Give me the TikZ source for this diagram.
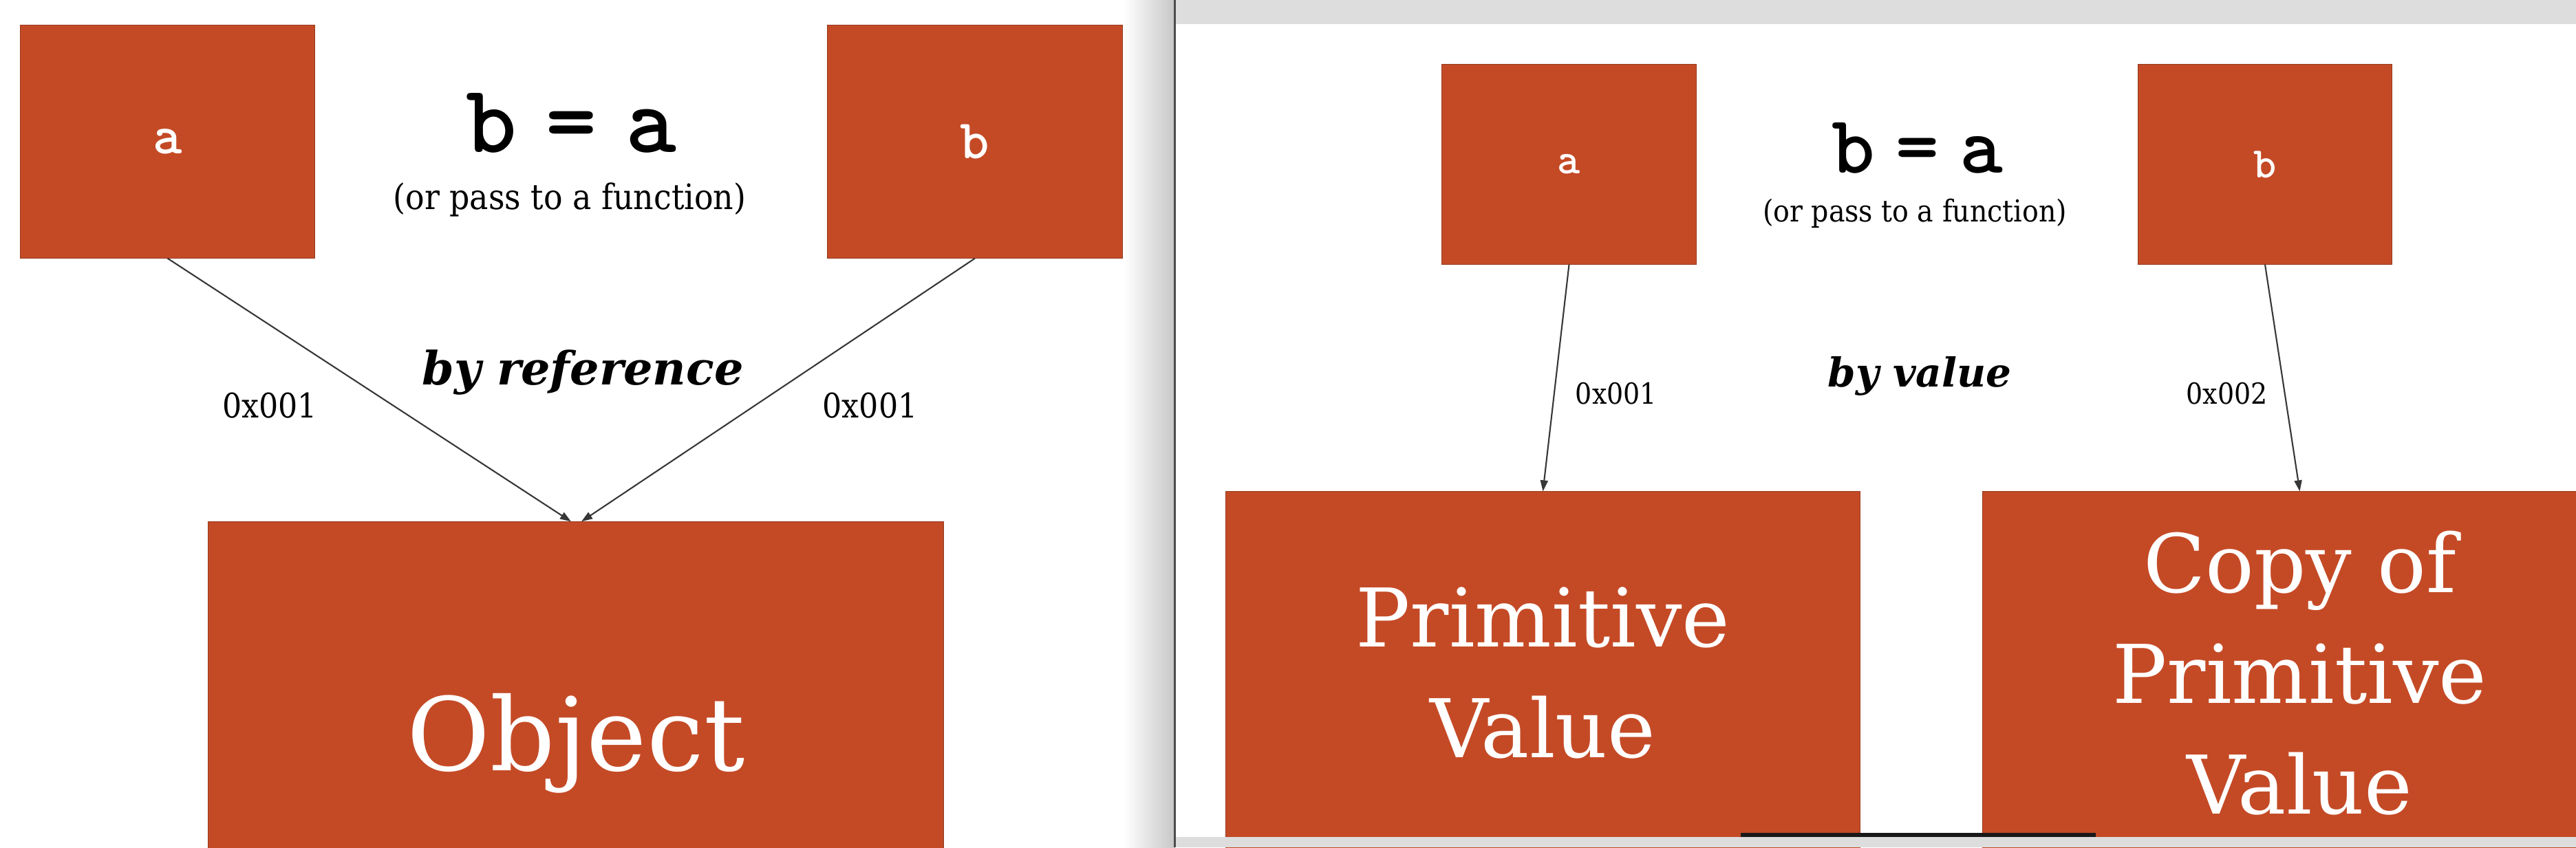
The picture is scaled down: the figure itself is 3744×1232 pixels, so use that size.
\documentclass[tikz,border=0pt]{standalone}
\usepackage{fontspec}
\setmainfont{DejaVu Serif}
\newfontfamily\condfont{DejaVu Serif Condensed}
\newfontfamily\typefont{lmmonolt10-bold}[Extension=.otf]
\usetikzlibrary{arrows.meta,positioning}
\definecolor{slidered}{RGB}{196,74,38}
\definecolor{slideedge}{RGB}{150,58,30}
\definecolor{bargray}{RGB}{221,221,221}
\definecolor{wirecol}{RGB}{55,55,55}

\begin{document}
\begin{tikzpicture}[x=0.01cm, y=-0.01cm, semithick, >={Triangle[length=0.16cm,width=0.11cm]}]
  \tikzstyle{box}=[rectangle, fill=slidered, draw=slideedge, line width=0.01cm, text=white, inner sep=0pt]
  \tikzstyle{wire}=[draw=wirecol, ->]
  \tikzstyle{addr}=[inner sep=0pt, font=\condfont\fontsize{14}{16}\selectfont]
  \useasboundingbox (0,0) rectangle (3744,1232);
  \clip (0,0) rectangle (3744,1232);
  \fill[white] (0,0) rectangle (3744,1232);
  \shade[left color=white, right color=black!22] (1633,0) rectangle (1707,1232);
  \fill[black!70] (1706,0) rectangle (1709,1232);

  % by reference
  \node[box, minimum width=4.27cm, minimum height=3.38cm, font=\typefont\fontsize{23}{26}\selectfont] (la) at (243.5,206) {a};
  \node[box, minimum width=4.28cm, minimum height=3.38cm, font=\typefont\fontsize{23}{26}\selectfont] (lb) at (1417,206) {b};
  \node[box, minimum width=10.68cm, minimum height=6.44cm, font=\fontsize{42}{50}\selectfont] (obj) at (837,1081) {Object};
  \node[anchor=base, font=\typefont\fontsize{40}{42}\selectfont] (leq) at (830,221) {b\kern12pt=\kern12pt a};
  \node[anchor=base, font=\condfont\fontsize{14.5}{16}\selectfont] (lsub) at (828,304) {(or pass to a function)};
  \node[anchor=base, font=\bfseries\itshape\fontsize{19}{22}\selectfont] (lhow) at (847,559) {by reference};
  \path (la.south) edge[wire] node[addr, pos=0.56, left=1.1cm] (laddr) {0x001} ([xshift=-0.07cm]obj.north)
        (lb.south) edge[wire] node[addr, pos=0.56, right=0.98cm] (baddr) {0x001} ([xshift=0.08cm]obj.north);

  % by value
  \node[box, minimum width=3.69cm, minimum height=2.9cm, font=\typefont\fontsize{18}{20}\selectfont] (ra) at (2280.5,239) {a};
  \node[box, minimum width=3.68cm, minimum height=2.9cm, font=\typefont\fontsize{18}{20}\selectfont] (rb) at (3292,239) {b};
  \node[box, minimum width=9.21cm, minimum height=5.27cm, align=center, font=\fontsize{33.5}{45.8}\selectfont] (pv) at (2242.5,978.5) {Primitive\\Value};
  \node[box, minimum width=9.21cm, minimum height=5.27cm, align=center, font=\fontsize{33.5}{45.8}\selectfont] (cpv) at (3342.5,978.5) {Copy of\\Primitive\\Value};
  \node[anchor=base, font=\typefont\fontsize{34}{36}\selectfont] (req) at (2787,251) {b\kern8.5pt=\kern8.5pt a};
  \node[anchor=base, font=\condfont\fontsize{12.5}{14}\selectfont] (rsub) at (2783,322) {(or pass to a function)};
  \node[anchor=base, font=\bfseries\itshape\fontsize{16.5}{19}\selectfont] (rhow) at (2790,562) {by value};
  \path (ra.south) edge[wire] node[addr, font=\condfont\fontsize{12}{14}\selectfont, pos=0.57, right=0.3cm] (raddr) {0x001} (pv.north)
        (rb.south) edge[wire] node[addr, font=\condfont\fontsize{12}{14}\selectfont, pos=0.57, left=0.24cm] (rbaddr) {0x002} (cpv.north);

  % window bars
  \fill[bargray] (1709,0) rectangle (3744,35);
  \fill[bargray] (1709,1217) rectangle (3744,1232);
  \fill[black!90] (2530,1211) rectangle (3046,1217);
\end{tikzpicture}
\end{document}
